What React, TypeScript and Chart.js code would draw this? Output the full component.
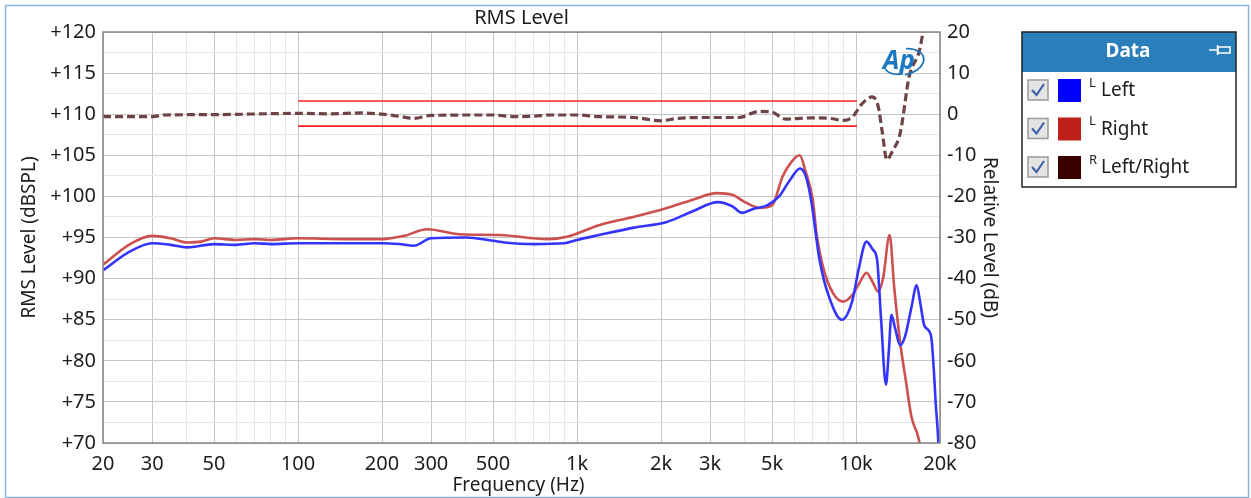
import React, { useEffect, useRef } from "react";
import { Chart, registerables } from "chart.js";

Chart.register(...registerables);

// ---- Data ----
const leftFreq = [20, 25, 30, 35, 40, 50, 60, 70, 80, 100, 150, 200, 230, 260, 300, 400, 500, 550, 700, 900, 1000, 1200, 1600, 2100, 2600, 3200, 3600, 3900, 4300, 4800, 5300, 5800, 6300, 6600, 6900, 7400, 8000, 8900, 9700, 10200, 10900, 11500, 11900, 12300, 12800, 13100, 13400, 13800, 14400, 15000, 15800, 16500, 17000, 17500, 17800, 18600, 19000, 19300, 19700, 19950];
const leftLevel = [91.0, 93.3, 94.3, 94.1, 93.8, 94.2, 94.1, 94.3, 94.2, 94.3, 94.3, 94.3, 94.2, 94.0, 94.9, 95.0, 94.6, 94.4, 94.2, 94.3, 94.7, 95.3, 96.2, 96.9, 98.2, 99.3, 98.8, 98.0, 98.5, 98.9, 100.0, 102.0, 103.4, 102.5, 99.6, 92.3, 87.8, 85.0, 87.3, 91.0, 94.5, 93.5, 92.3, 85.0, 77.1, 81.0, 85.6, 84.0, 81.9, 83.0, 86.5, 89.2, 87.0, 84.5, 84.0, 82.9, 79.0, 74.9, 70.5, 66.0];

const rightFreq = [20, 25, 30, 35, 40, 45, 50, 60, 70, 80, 100, 150, 200, 240, 290, 380, 530, 780, 920, 1200, 1590, 2100, 2600, 3170, 3600, 4000, 4500, 5000, 5450, 5900, 6280, 6600, 7000, 7220, 7620, 8280, 9000, 9700, 10300, 10900, 11500, 12000, 12500, 13200, 13700, 14400, 15100, 15800, 16800, 17200];
const rightLevel = [91.7, 94.2, 95.2, 94.9, 94.4, 94.5, 94.9, 94.7, 94.8, 94.7, 94.9, 94.8, 94.8, 95.2, 96.0, 95.4, 95.3, 94.8, 95.1, 96.5, 97.5, 98.6, 99.6, 100.4, 100.2, 99.3, 98.6, 98.9, 102.4, 104.3, 105.0, 103.0, 99.6, 95.5, 91.4, 88.2, 87.2, 88.0, 89.5, 90.7, 89.5, 88.4, 90.0, 95.3, 89.0, 82.2, 77.5, 73.2, 70.4, 68.0];

const ratioFreq = [20, 30, 33, 50, 100, 130, 170, 200, 230, 260, 300, 400, 500, 600, 700, 800, 1000, 1200, 1600, 2000, 2300, 3000, 3800, 4500, 5000, 5600, 6300, 7000, 8000, 9000, 9700, 10500, 11400, 12000, 12400, 12900, 13500, 14400, 15500, 16900, 17400, 18000];
const ratioDb = [-0.6, -0.6, -0.2, -0.1, 0.2, 0.1, 0.3, 0.0, -0.5, -1.0, -0.3, -0.2, -0.2, -0.6, -0.5, -0.2, -0.2, -0.6, -0.8, -1.6, -1.0, -0.8, -0.8, 0.7, 0.5, -1.2, -1.0, -0.9, -1.0, -1.5, -0.7, 2.5, 4.2, 2.0, -4.0, -11.1, -9.0, -4.6, 9.1, 15.6, 20.0, 24.0];

const limitFreq = [100, 10080];
const upperLimit = [3.2, 3.2];
const lowerLimit = [-2.9, -2.9];

const xGridValues = [20, 30, 40, 50, 60, 70, 80, 90, 100, 200, 300, 400, 500, 600, 700, 800, 900, 1000, 2000, 3000, 4000, 5000, 6000, 7000, 8000, 9000, 10000, 20000];
const xLabeled = [20, 30, 50, 100, 200, 300, 500, 1000, 2000, 3000, 5000, 10000, 20000];

const legendItems = ["Left", "Right", "Left/Right"];
const legendSup = ["L", "L", "R"];
const legendColors = ["#0000ff", "#c0201c", "#3a0000"];

const FONT = "'Noto Sans', 'Open Sans', sans-serif";
const TXT = "#1c1c1c";

const pts = (xs: number[], ys: number[]) => xs.map((x, i) => ({ x, y: ys[i] }));

const decorPlugin = {
  id: "decor",
  afterDraw(chart: any) {
    const { ctx, chartArea: a } = chart;
    ctx.save();
    // plot border
    ctx.strokeStyle = "#868686";
    ctx.lineWidth = 1.5;
    ctx.strokeRect(a.left, a.top, a.right - a.left, a.bottom - a.top);

    const cx = (a.left + a.right) / 2;
    const cy = (a.top + a.bottom) / 2;
    ctx.fillStyle = TXT;
    ctx.textAlign = "center";
    ctx.textBaseline = "middle";
    ctx.font = `20px ${FONT}`;
    ctx.fillText("RMS Level", cx, 18);
    ctx.font = `19px ${FONT}`;
    ctx.fillText("Frequency (Hz)", cx - 3, 486);
    ctx.save();
    ctx.translate(30, cy);
    ctx.rotate(-Math.PI / 2);
    ctx.fillText("RMS Level (dBSPL)", 0, 0);
    ctx.restore();
    ctx.save();
    ctx.translate(989, cy);
    ctx.rotate(Math.PI / 2);
    ctx.fillText("Relative Level (dB)", 0, 0);
    ctx.restore();

    // Ap logo
    ctx.save();
    ctx.fillStyle = "#1b78c0";
    ctx.font = `italic bold 26px ${FONT}`;
    ctx.fillText("Ap", 899, 62);
    ctx.strokeStyle = "#1b78c0";
    ctx.lineWidth = 1.8;
    ctx.beginPath();
    ctx.ellipse(903, 62, 21, 13, -0.2, -1.3, 1.6);
    ctx.stroke();
    ctx.beginPath();
    ctx.ellipse(901, 63, 17, 11, -0.2, 1.8, 2.9);
    ctx.stroke();
    ctx.restore();

    // legend box
    const bx = 1022, by = 32, bw = 214, bh = 155;
    ctx.fillStyle = "#ffffff";
    ctx.fillRect(bx, by, bw, bh);
    ctx.fillStyle = "#2a7fba";
    ctx.fillRect(bx, by, bw, 40);
    ctx.strokeStyle = "#222";
    ctx.lineWidth = 1.5;
    ctx.strokeRect(bx, by, bw, bh);
    ctx.fillStyle = "#ffffff";
    ctx.font = `bold 19px ${FONT}`;
    ctx.fillText("Data", bx + 106, by + 20);
    // pin icon
    ctx.strokeStyle = "#ffffff";
    ctx.lineWidth = 1.5;
    ctx.beginPath();
    ctx.moveTo(1209, 50);
    ctx.lineTo(1217, 50);
    ctx.moveTo(1217.5, 45);
    ctx.lineTo(1217.5, 55);
    ctx.stroke();
    ctx.strokeRect(1218, 47, 12, 6);

    legendItems.forEach((label, i) => {
      const ry = 90 + i * 38.5;
      // checkbox
      ctx.fillStyle = "#e4e4e4";
      ctx.fillRect(1028, ry - 10, 20, 20);
      ctx.strokeStyle = "#9a9a9a";
      ctx.lineWidth = 1.5;
      ctx.strokeRect(1028, ry - 10, 20, 20);
      ctx.strokeStyle = "#3f62a8";
      ctx.lineWidth = 2.2;
      ctx.beginPath();
      ctx.moveTo(1032, ry);
      ctx.lineTo(1036.5, ry + 5);
      ctx.lineTo(1044, ry - 6);
      ctx.stroke();
      // color swatch
      ctx.fillStyle = legendColors[i];
      ctx.fillRect(1058, ry - 11, 23, 23);
      // superscript
      ctx.fillStyle = TXT;
      ctx.textAlign = "left";
      ctx.font = `13px ${FONT}`;
      ctx.fillText(legendSup[i], 1089, ry - 7);
      ctx.font = `19px ${FONT}`;
      ctx.fillText(label, 1101, ry + 1);
    });

    // outer frame
    ctx.strokeStyle = "#8db4de";
    ctx.lineWidth = 1.5;
    ctx.strokeRect(5.5, 5.5, 1243, 492);
    ctx.restore();
  },
};

export default function App() {
  const ref = useRef<HTMLCanvasElement>(null);
  useEffect(() => {
    if (!ref.current) return;
    const labeledSet = new Set(xLabeled);
    const chart = new Chart(ref.current, {
      type: "line",
      data: {
        datasets: [
          {
            label: "Left",
            data: pts(leftFreq, leftLevel),
            borderColor: "#3434ff",
            borderWidth: 2.6,
            pointRadius: 0,
            cubicInterpolationMode: "monotone",
            yAxisID: "y",
          },
          {
            label: "Right",
            data: pts(rightFreq, rightLevel),
            borderColor: "#cc5050",
            borderWidth: 2.6,
            pointRadius: 0,
            cubicInterpolationMode: "monotone",
            yAxisID: "y",
          },
          {
            label: "Left/Right",
            data: pts(ratioFreq, ratioDb),
            borderColor: "#6e4446",
            borderWidth: 3.2,
            borderDash: [8, 4],
            pointRadius: 0,
            cubicInterpolationMode: "monotone",
            yAxisID: "y1",
          },
          {
            label: "Upper",
            data: pts(limitFreq, upperLimit),
            borderColor: "#ff2020",
            borderWidth: 1.6,
            pointRadius: 0,
            yAxisID: "y1",
          },
          {
            label: "Lower",
            data: pts(limitFreq, lowerLimit),
            borderColor: "#ff2020",
            borderWidth: 1.6,
            pointRadius: 0,
            yAxisID: "y1",
          },
        ] as any,
      },
      options: {
        animation: false,
        responsive: false,
        maintainAspectRatio: false,
        layout: { padding: { left: 0, top: 32, right: 251, bottom: 25 } },
        plugins: { legend: { display: false }, tooltip: { enabled: false }, title: { display: false } },
        scales: {
          x: {
            type: "logarithmic",
            min: 20,
            max: 20000,
            afterBuildTicks: (s: any) => {
              s.ticks = xGridValues.map((v) => ({ value: v }));
            },
            afterFit: (s: any) => {
              s.height = 30;
            },
            ticks: {
              autoSkip: false,
              maxRotation: 0,
              padding: 9,
              color: TXT,
              font: { family: FONT, size: 20 },
              callback: (v: any) => {
                const n = Number(v);
                if (!labeledSet.has(n)) return "";
                return n >= 1000 ? n / 1000 + "k" : String(n);
              },
            },
            grid: {
              drawTicks: false,
              color: (c: any) => (c.tick && labeledSet.has(c.tick.value) ? "#c6c6c6" : "#e6e6e6"),
              lineWidth: 1,
            },
            border: { display: false },
          },
          y: {
            position: "left",
            min: 70,
            max: 120,
            afterFit: (s: any) => {
              s.width = 103;
            },
            ticks: {
              stepSize: 2.5,
              autoSkip: false,
              padding: 7,
              color: TXT,
              font: { family: FONT, size: 20 },
              callback: (v: any) => (Number(v) % 5 === 0 ? "+" + v : ""),
            },
            grid: {
              drawTicks: false,
              color: (c: any) => (c.tick && c.tick.value % 5 === 0 ? "#c6c6c6" : "#e6e6e6"),
            },
            border: { display: false },
          },
          y1: {
            position: "right",
            min: -80,
            max: 20,
            afterFit: (s: any) => {
              s.width = 60;
            },
            ticks: {
              stepSize: 10,
              autoSkip: false,
              padding: 7,
              color: TXT,
              font: { family: FONT, size: 20 },
            },
            grid: { display: false, drawTicks: false },
            border: { display: false },
          },
        },
      } as any,
      plugins: [decorPlugin],
    });
    return () => chart.destroy();
  }, []);
  return (
    <div style={{ position: "absolute", left: 0, top: 0, width: 1251, height: 498, background: "#fff" }}>
      <canvas ref={ref} width={1251} height={498} style={{ display: "block", width: 1251, height: 498 }} />
    </div>
  );
}
